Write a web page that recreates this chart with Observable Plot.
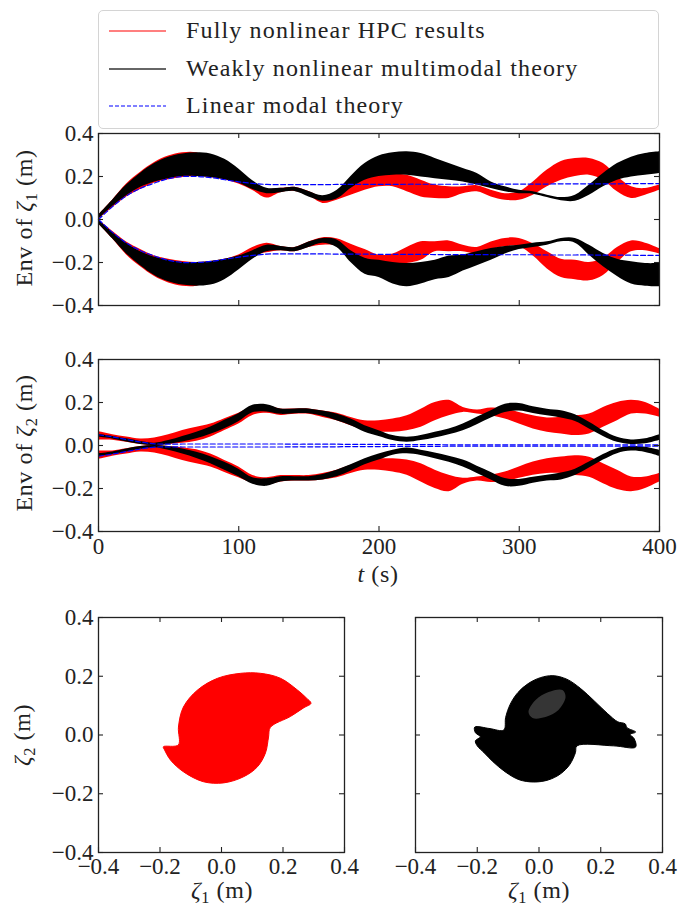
<!DOCTYPE html>
<html><head><meta charset="utf-8">
<script src="https://cdn.jsdelivr.net/npm/d3@7"></script>
<script src="https://cdn.jsdelivr.net/npm/@observablehq/plot@0.6"></script>
<style>
body{margin:0;background:#fff;}
#wrap{position:relative;width:679px;height:910px;overflow:hidden;font-family:"Liberation Serif","DejaVu Serif","Noto Serif",serif;color:#222;background:#fff;}
.pl{position:absolute;}
.lbl{position:absolute;font-size:24px;white-space:nowrap;letter-spacing:0.6px;line-height:1;}
.rot{transform:translate(-50%,-50%) rotate(-90deg);}
.ctr{transform:translate(-50%,-50%);}
sub{font-size:68%;vertical-align:-0.28em;line-height:0;}
#legend{position:absolute;left:98px;top:10px;width:559px;height:117px;border:1px solid #d4d4d4;border-radius:5px;background:#fff;}
.row{position:absolute;left:0;height:32px;width:559px;}
.row svg{position:absolute;left:10px;top:15px;}
.row span{position:absolute;left:87px;top:0;font-size:24px;letter-spacing:1.15px;line-height:32px;white-space:nowrap;}
</style></head>
<body><div id="wrap"></div>
<script>
// ---------- data ----------
const tVals = [0,10,20,30,40,50,60,70,80,90,100,110,120,130,140,150,160,170,180,190,200,210,220,230,240,250,260,270,280,290,300,310,320,330,340,350,360,370,380,390,400];
const yTicks = [-0.4,-0.2,0.0,0.2,0.4];
const tTicks = [0,100,200,300,400];
const legendLabels = ["Fully nonlinear HPC results","Weakly nonlinear multimodal theory","Linear modal theory"];

// zeta_1 envelope (upper band: outer / inner ; lower band: outer / inner)
const z1RedUpOut = [0.02,0.09,0.165,0.22,0.265,0.295,0.31,0.31,0.28,0.245,0.2,0.165,0.14,0.145,0.15,0.13,0.105,0.125,0.175,0.2,0.206,0.21,0.206,0.183,0.16,0.152,0.152,0.157,0.136,0.12,0.129,0.175,0.23,0.27,0.284,0.284,0.26,0.2,0.152,0.144,0.16];
const z1RedUpIn  = [0.0,0.055,0.105,0.14,0.17,0.185,0.195,0.2,0.195,0.185,0.165,0.135,0.1,0.125,0.13,0.11,0.075,0.09,0.113,0.136,0.152,0.152,0.129,0.105,0.098,0.098,0.12,0.129,0.105,0.09,0.09,0.113,0.152,0.183,0.2,0.206,0.183,0.129,0.098,0.113,0.136];
const z1RedLoOut = [-0.02,-0.09,-0.165,-0.22,-0.265,-0.295,-0.31,-0.31,-0.285,-0.25,-0.205,-0.17,-0.155,-0.145,-0.15,-0.13,-0.12,-0.125,-0.175,-0.2,-0.205,-0.21,-0.205,-0.19,-0.15,-0.15,-0.15,-0.16,-0.14,-0.127,-0.127,-0.17,-0.23,-0.27,-0.28,-0.285,-0.26,-0.2,-0.15,-0.145,-0.16];
const z1RedLoIn  = [0.0,-0.055,-0.105,-0.14,-0.17,-0.185,-0.195,-0.2,-0.195,-0.185,-0.165,-0.13,-0.11,-0.125,-0.13,-0.105,-0.085,-0.09,-0.115,-0.14,-0.166,-0.16,-0.13,-0.104,-0.104,-0.1,-0.12,-0.13,-0.105,-0.088,-0.088,-0.113,-0.15,-0.185,-0.19,-0.2,-0.18,-0.13,-0.1,-0.11,-0.135];
const z1BlkUpOut = [0.02,0.09,0.16,0.215,0.26,0.29,0.305,0.31,0.305,0.28,0.235,0.18,0.145,0.145,0.15,0.13,0.11,0.135,0.2,0.26,0.295,0.31,0.315,0.307,0.284,0.26,0.237,0.214,0.175,0.152,0.136,0.129,0.113,0.102,0.113,0.16,0.214,0.26,0.29,0.307,0.315];
const z1BlkUpIn  = [0.0,0.06,0.11,0.15,0.175,0.19,0.2,0.2,0.195,0.185,0.17,0.14,0.12,0.125,0.13,0.105,0.085,0.095,0.144,0.183,0.2,0.206,0.206,0.198,0.19,0.183,0.175,0.16,0.144,0.129,0.12,0.118,0.102,0.087,0.085,0.113,0.152,0.183,0.198,0.206,0.214];
const z1BlkLoOut = [-0.02,-0.09,-0.16,-0.215,-0.26,-0.29,-0.305,-0.31,-0.305,-0.28,-0.235,-0.185,-0.15,-0.145,-0.15,-0.13,-0.11,-0.13,-0.2,-0.255,-0.27,-0.3,-0.313,-0.3,-0.28,-0.27,-0.24,-0.215,-0.19,-0.16,-0.14,-0.13,-0.12,-0.104,-0.11,-0.166,-0.22,-0.265,-0.3,-0.31,-0.313];
const z1BlkLoIn  = [0.0,-0.06,-0.11,-0.15,-0.175,-0.19,-0.2,-0.2,-0.195,-0.185,-0.17,-0.145,-0.12,-0.125,-0.13,-0.105,-0.088,-0.095,-0.145,-0.18,-0.19,-0.2,-0.205,-0.2,-0.19,-0.17,-0.165,-0.15,-0.135,-0.125,-0.12,-0.11,-0.104,-0.088,-0.088,-0.12,-0.158,-0.185,-0.197,-0.205,-0.205];
const z1BlueUp = [0,0.06,0.11,0.145,0.17,0.19,0.2,0.2,0.195,0.185,0.175,0.168,0.163,0.162,0.162,0.162,0.162,0.163,0.163,0.163,0.163,0.163,0.164,0.164,0.164,0.164,0.164,0.165,0.165,0.165,0.165,0.165,0.165,0.166,0.166,0.166,0.166,0.166,0.167,0.167,0.167];
const z1BlueLo = [0,-0.06,-0.11,-0.145,-0.17,-0.19,-0.2,-0.2,-0.195,-0.185,-0.175,-0.167,-0.161,-0.16,-0.16,-0.16,-0.16,-0.161,-0.161,-0.161,-0.162,-0.162,-0.162,-0.162,-0.163,-0.163,-0.163,-0.163,-0.164,-0.164,-0.164,-0.164,-0.165,-0.165,-0.165,-0.165,-0.166,-0.166,-0.166,-0.167,-0.167];

// zeta_2 envelope
const z2RedUpOut = [0.065,0.05,0.04,0.03,0.035,0.05,0.07,0.085,0.1,0.125,0.15,0.18,0.185,0.17,0.17,0.17,0.16,0.15,0.13,0.115,0.115,0.123,0.138,0.169,0.2,0.21,0.177,0.165,0.174,0.169,0.154,0.138,0.128,0.131,0.138,0.146,0.177,0.2,0.21,0.2,0.169];
const z2RedUpIn  = [0.025,0.025,0.015,0.005,0.0,0.005,0.01,0.02,0.04,0.07,0.1,0.14,0.15,0.14,0.145,0.145,0.13,0.115,0.092,0.07,0.062,0.062,0.069,0.085,0.115,0.138,0.154,0.146,0.138,0.123,0.1,0.077,0.062,0.054,0.046,0.054,0.085,0.115,0.146,0.146,0.131];
const z2RedLoOut = [-0.065,-0.05,-0.04,-0.03,-0.035,-0.05,-0.07,-0.085,-0.1,-0.125,-0.15,-0.175,-0.185,-0.17,-0.165,-0.165,-0.16,-0.15,-0.13,-0.115,-0.115,-0.123,-0.138,-0.17,-0.2,-0.215,-0.18,-0.165,-0.172,-0.168,-0.152,-0.138,-0.13,-0.13,-0.14,-0.148,-0.178,-0.205,-0.215,-0.2,-0.17];
const z2RedLoIn  = [-0.025,-0.025,-0.015,-0.005,0.0,-0.005,-0.01,-0.02,-0.04,-0.07,-0.1,-0.14,-0.15,-0.14,-0.14,-0.14,-0.13,-0.115,-0.092,-0.07,-0.062,-0.062,-0.068,-0.085,-0.115,-0.138,-0.152,-0.146,-0.138,-0.123,-0.1,-0.077,-0.062,-0.054,-0.048,-0.055,-0.085,-0.115,-0.146,-0.146,-0.13];
const z2BlkUpOut = [0.052,0.042,0.031,0.019,0.011,0.023,0.042,0.062,0.086,0.117,0.148,0.187,0.19,0.17,0.17,0.17,0.16,0.146,0.123,0.092,0.069,0.046,0.038,0.046,0.062,0.077,0.1,0.131,0.162,0.192,0.195,0.18,0.169,0.162,0.143,0.108,0.069,0.038,0.026,0.031,0.05];
const z2BlkUpIn  = [0.039,0.03,0.016,0.005,0.0,0.005,0.016,0.031,0.052,0.078,0.11,0.152,0.156,0.145,0.148,0.148,0.136,0.115,0.092,0.062,0.042,0.023,0.015,0.023,0.035,0.05,0.069,0.097,0.128,0.154,0.16,0.149,0.138,0.128,0.112,0.077,0.042,0.015,0.005,0.008,0.023];
const z2BlkLoOut = [-0.052,-0.042,-0.03,-0.018,-0.01,-0.022,-0.04,-0.06,-0.085,-0.115,-0.145,-0.18,-0.19,-0.17,-0.165,-0.165,-0.16,-0.145,-0.12,-0.09,-0.068,-0.045,-0.038,-0.046,-0.062,-0.078,-0.1,-0.13,-0.16,-0.19,-0.19,-0.175,-0.165,-0.16,-0.14,-0.105,-0.068,-0.038,-0.026,-0.032,-0.05];
const z2BlkLoIn  = [-0.038,-0.03,-0.016,-0.005,0.0,-0.005,-0.016,-0.031,-0.052,-0.078,-0.11,-0.15,-0.155,-0.145,-0.145,-0.145,-0.135,-0.115,-0.09,-0.062,-0.04,-0.022,-0.012,-0.022,-0.035,-0.05,-0.068,-0.096,-0.125,-0.154,-0.158,-0.148,-0.138,-0.128,-0.11,-0.077,-0.042,-0.015,-0.005,-0.008,-0.022];
const z2BlueUp = [0.05,0.04,0.028,0.016,0.008,0.006,0.007,0.007,0.007,0.007,0.007,0.007,0.007,0.007,0.006,0.006,0.006,0.006,0.005,0.005,0.005,0.004,0.004,0.004,0.004,0.003,0.003,0.003,0.003,0.003,0.003,0.003,0.003,0.003,0.003,0.003,0.003,0.003,0.003,0.003,0.003];
const z2BlueLo = [-0.05,-0.04,-0.028,-0.016,-0.008,-0.006,-0.007,-0.007,-0.007,-0.007,-0.007,-0.007,-0.007,-0.007,-0.006,-0.006,-0.006,-0.006,-0.005,-0.005,-0.005,-0.004,-0.004,-0.004,-0.004,-0.003,-0.003,-0.003,-0.003,-0.003,-0.003,-0.003,-0.003,-0.003,-0.003,-0.003,-0.003,-0.003,-0.003,-0.003,-0.003];

// phase portraits (outline of the filled trajectory region)
const hpcPhaseX = [-0.189,-0.14,-0.14,-0.124,-0.078,-0.013,0.062,0.127,0.192,0.247,0.275,0.291,0.268,0.224,0.159,0.153,0.143,0.117,0.072,0.007,-0.059,-0.124,-0.166,-0.185];
const hpcPhaseY = [-0.04,-0.034,0.027,0.095,0.153,0.193,0.21,0.21,0.193,0.153,0.127,0.108,0.093,0.063,0.026,-0.007,-0.061,-0.108,-0.142,-0.163,-0.159,-0.125,-0.085,-0.051];
const mmPhaseX = [-0.208,-0.16,-0.114,-0.108,-0.093,-0.068,-0.035,0.004,0.045,0.09,0.135,0.18,0.222,0.255,0.279,0.285,0.313,0.295,0.308,0.313,0.242,0.123,0.118,0.1,0.07,0.03,-0.017,-0.065,-0.11,-0.15,-0.178,-0.2,-0.206,-0.19,-0.206];
const mmPhaseY = [0.027,0.022,0.017,0.06,0.105,0.145,0.175,0.195,0.202,0.19,0.158,0.115,0.073,0.045,0.038,0.025,0.01,0.002,-0.012,-0.041,-0.037,-0.037,-0.06,-0.1,-0.132,-0.153,-0.16,-0.152,-0.125,-0.09,-0.06,-0.037,-0.02,-0.006,0.008];
// lighter (loosely wound) inner region of the multimodal trajectory
const mmCoreX = [-0.034,-0.011,0.031,0.076,0.086,0.063,0.021,-0.021];
const mmCoreY = [0.078,0.119,0.146,0.153,0.129,0.085,0.061,0.058];

// ---------- helpers ----------
const FONT = "Liberation Serif, DejaVu Serif, Noto Serif, serif";
const INK = "#222";
const fmt1 = d3.format(".1f");
const wrap = document.getElementById("wrap");

function place(el, left, top) {
  el.classList.add("pl");
  el.style.left = left + "px";
  el.style.top = top + "px";
  wrap.appendChild(el);
}
function label(html, x, y, cls) {
  const d = document.createElement("div");
  d.className = "lbl " + cls;
  d.innerHTML = html;
  d.style.left = x + "px";
  d.style.top = y + "px";
  wrap.appendChild(d);
}
function innerTicks(xt, yt, iw, ih, L) {
  return [
    Plot.tickX(xt, {x: d => d, insetTop: ih - L, stroke: INK, strokeWidth: 1.1}),
    Plot.tickX(xt, {x: d => d, insetBottom: ih - L, stroke: INK, strokeWidth: 1.1}),
    Plot.tickY(yt, {y: d => d, insetLeft: iw - L, stroke: INK, strokeWidth: 1.1}),
    Plot.tickY(yt, {y: d => d, insetRight: iw - L, stroke: INK, strokeWidth: 1.1})
  ];
}
function band(a, b) { return tVals.map((t, i) => ({t, lo: Math.min(a[i], b[i]), hi: Math.max(a[i], b[i])})); }
function ser(a) { return tVals.map((t, i) => ({t, v: a[i]})); }

function envPanel(o) {
  const width = 679, mL = 98, mR = 20;
  const iw = width - mL - mR, ih = o.height - o.mt - o.mb;
  const marks = [
    Plot.areaY(band(o.ru[0], o.ru[1]), {x: "t", y1: "lo", y2: "hi", fill: "#ff0000", curve: "catmull-rom"}),
    Plot.areaY(band(o.rl[0], o.rl[1]), {x: "t", y1: "lo", y2: "hi", fill: "#ff0000", curve: "catmull-rom"}),
    Plot.areaY(band(o.bu[0], o.bu[1]), {x: "t", y1: "lo", y2: "hi", fill: "#000", curve: "catmull-rom"}),
    Plot.areaY(band(o.bl[0], o.bl[1]), {x: "t", y1: "lo", y2: "hi", fill: "#000", curve: "catmull-rom"}),
    Plot.line(ser(o.blu), {x: "t", y: "v", stroke: "#0000ff", strokeWidth: 1.2, strokeDasharray: "5,2.5", curve: "catmull-rom"}),
    Plot.line(ser(o.bll), {x: "t", y: "v", stroke: "#0000ff", strokeWidth: 1.2, strokeDasharray: "5,2.5", curve: "catmull-rom"}),
    ...innerTicks(tTicks, yTicks, iw, ih, 5),
    Plot.frame({stroke: INK, strokeWidth: 1.3}),
    Plot.axisY(yTicks, {anchor: "left", tickSize: 0, tickPadding: 5, tickFormat: fmt1, fontSize: 23, fontFamily: FONT, fill: INK, label: null})
  ];
  if (o.xLabels) marks.push(Plot.axisX(tTicks, {anchor: "bottom", tickSize: 0, tickPadding: 6, tickFormat: d3.format("d"), fontSize: 23, fontFamily: FONT, fill: INK, label: null}));
  const p = Plot.plot({
    width, height: o.height, marginLeft: mL, marginRight: mR, marginTop: o.mt, marginBottom: o.mb,
    style: {background: "transparent", overflow: "visible", fontFamily: FONT},
    x: {domain: [0, 400], axis: null},
    y: {domain: [-0.4, 0.4], axis: null},
    marks
  });
  place(p, 0, o.top);
}

function phasePanel(o) {
  const iw = o.width - o.mL - o.mR, ih = o.height - o.mt - o.mb;
  const pts = o.px.map((x, i) => ({x, y: o.py[i]}));
  const marks = [
    Plot.line(pts, {x: "x", y: "y", fill: o.color, stroke: o.color, strokeWidth: 1, curve: "catmull-rom-closed"})
  ];
  if (o.cx) {
    const core = o.cx.map((x, i) => ({x, y: o.cy[i]}));
    marks.push(Plot.line(core, {x: "x", y: "y", fill: o.coreColor, stroke: "none", curve: "catmull-rom-closed"}));
  }
  marks.push(
    ...innerTicks(yTicks, yTicks, iw, ih, 5),
    Plot.frame({stroke: INK, strokeWidth: 1.3}),
    Plot.axisX(yTicks, {anchor: "bottom", tickSize: 0, tickPadding: 5, tickFormat: fmt1, fontSize: 23, fontFamily: FONT, fill: INK, label: null})
  );
  if (o.yLabels) marks.push(Plot.axisY(yTicks, {anchor: "left", tickSize: 0, tickPadding: 5, tickFormat: fmt1, fontSize: 23, fontFamily: FONT, fill: INK, label: null}));
  const p = Plot.plot({
    width: o.width, height: o.height, marginLeft: o.mL, marginRight: o.mR, marginTop: o.mt, marginBottom: o.mb,
    style: {background: "transparent", overflow: "visible", fontFamily: FONT},
    x: {domain: [-0.4, 0.4], axis: null},
    y: {domain: [-0.4, 0.4], axis: null},
    marks
  });
  place(p, o.left, o.top);
}

// ---------- panels ----------
envPanel({top: 120, height: 200, mt: 13, mb: 15, xLabels: false,
  ru: [z1RedUpOut, z1RedUpIn], rl: [z1RedLoOut, z1RedLoIn],
  bu: [z1BlkUpOut, z1BlkUpIn], bl: [z1BlkLoOut, z1BlkLoIn],
  blu: z1BlueUp, bll: z1BlueLo});
envPanel({top: 346, height: 250, mt: 13, mb: 65, xLabels: true,
  ru: [z2RedUpOut, z2RedUpIn], rl: [z2RedLoOut, z2RedLoIn],
  bu: [z2BlkUpOut, z2BlkUpIn], bl: [z2BlkLoOut, z2BlkLoIn],
  blu: z2BlueUp, bll: z2BlueLo});
phasePanel({left: 0, top: 600, width: 360, height: 310, mL: 98, mR: 16, mt: 17, mb: 58,
  px: hpcPhaseX, py: hpcPhaseY, color: "#ff0000", yLabels: true});
phasePanel({left: 360, top: 600, width: 319, height: 310, mL: 55, mR: 17, mt: 17, mb: 58,
  px: mmPhaseX, py: mmPhaseY, color: "#000", yLabels: false,
  cx: mmCoreX, cy: mmCoreY, coreColor: "#353535"});

// ---------- axis titles ----------
label('Env of <i>ζ</i><sub>1</sub> (m)', 24, 218, "rot");
label('Env of <i>ζ</i><sub>2</sub> (m)', 24, 443, "rot");
label('<i>t</i> (s)', 378, 574, "ctr");
label('<i>ζ</i><sub>2</sub> (m)', 22, 735, "rot");
label('<i>ζ</i><sub>1</sub> (m)', 222, 890, "ctr");
label('<i>ζ</i><sub>1</sub> (m)', 539, 890, "ctr");

// ---------- legend ----------
const leg = document.createElement("div");
leg.id = "legend";
const legColors = ["#ff0000", "#333", "#0000ff"];
const legDash = [null, null, "4,2"];
const legTops = [3, 41, 78];
legendLabels.forEach((txt, i) => {
  const row = document.createElement("div");
  row.className = "row";
  row.style.top = legTops[i] + "px";
  const svg = d3.create("svg").attr("width", 57).attr("height", 4);
  svg.append("line").attr("x1", 0).attr("x2", 57).attr("y1", 2).attr("y2", 2)
    .attr("stroke", legColors[i]).attr("stroke-width", i === 1 ? 1.5 : 1.1)
    .attr("stroke-dasharray", legDash[i]);
  row.appendChild(svg.node());
  const sp = document.createElement("span");
  sp.textContent = txt;
  row.appendChild(sp);
  leg.appendChild(row);
});
wrap.appendChild(leg);
</script>
</body></html>
